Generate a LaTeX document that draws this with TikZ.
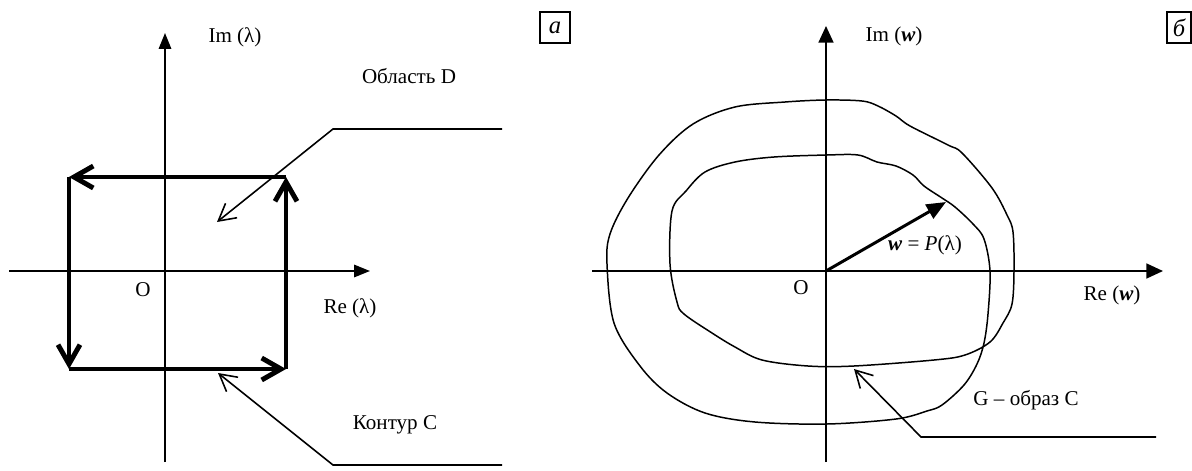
\documentclass[tikz,border=0pt]{standalone}
\usepackage{fontspec}
\setmainfont{Liberation Serif}
\usetikzlibrary{arrows.meta}
\begin{document}
\begin{tikzpicture}[x=0.02cm,y=-0.02cm,
  every node/.style={font=\fontsize{12}{14}\selectfont, inner sep=0pt},
  axis/.style={line width=1.1pt, -{Triangle[length=9pt,width=7pt]}},
  axisb/.style={line width=1.1pt, -{Triangle[length=9.5pt,width=8.5pt]}},
  contour/.style={line width=2.8pt, -{Straight Barb[length=11pt,width=12.5pt]}},
  leader/.style={line width=0.9pt, -{Straight Barb[length=9.5pt,width=10.5pt]}},
  image/.style={line width=0.85pt},
  vec/.style={line width=1.7pt, -{Triangle[length=11pt,width=9pt]}},
  tag/.style={draw, line width=0.6pt, minimum width=30\pgflinewidth, font=\fontsize{13}{15}\selectfont\itshape}
]
\useasboundingbox (0,0) rectangle (1192,470);
% ---------- panel a ----------
\coordinate (ya0) at (165,462);
\coordinate (ya1) at (165,33);
\coordinate (xa0) at (9,271);
\coordinate (xa1) at (370,271);
\draw[axis] (ya0) -- (ya1);
\draw[axis] (xa0) -- (xa1);
\node (ima) at (235,37) {Im (λ)};
\node (rea) at (350,308) {Re (λ)};
\node (oa) at (143,290) {O};
\coordinate (c1) at (69,177);
\coordinate (c2) at (286,177);
\coordinate (c3) at (286,369);
\coordinate (c4) at (69,369);
\draw[contour] (c2) -- (c1);
\draw[contour] (c1) -- (c4);
\draw[contour] (c4) -- (c3);
\draw[contour] (c3) -- (c2);
\node (obl) at (409,76) {Область D};
\coordinate (la1) at (502,129);
\coordinate (la2) at (333,129);
\coordinate (la3) at (217,222);
\draw[leader] (la1) -- (la2) -- (la3);
\node (kon) at (395,425) {Контур C};
\coordinate (lb1) at (502,465);
\coordinate (lb2) at (333,465);
\coordinate (lb3) at (218,373);
\draw[leader] (lb1) -- (lb2) -- (lb3);
\node[draw, line width=0.6pt, minimum width=30*0.02cm, minimum height=31*0.02cm, font=\fontsize{14}{16}\selectfont\itshape] (taga) at (555,27.5) {a};
% ---------- panel b ----------
\coordinate (yb0) at (826,462);
\coordinate (yb1) at (826,26);
\coordinate (xb0) at (592,271);
\coordinate (xb1) at (1163,271);
\draw[axisb] (yb0) -- (yb1);
\draw[axisb] (xb0) -- (xb1);
\node (imb) at (894,36) {Im (\textbf{\textit{w}})};
\node (reb) at (1112,295) {Re (\textbf{\textit{w}})};
\node (ob) at (801,288) {O};
\draw[image] plot[smooth cycle, tension=0.55] coordinates {
 (826,100) (862,101) (878,106) (896,116) (910,126) (948,145) (962,153)
 (992,188) (1007,215) (1013,232) (1014,271) (1012,304) (1003,323) (990,342)
 (965,355) (934,360) (854,366) (808,366) (762,360) (735,347) (712,333)
 (684,314) (677,302) (670,264) (672,211) (686,191) (705,172) (735,162)
 (774,157) (827,155) (858,155) (877,162) (896,166) (913,175) (924,186)
 (942,198) (955,207) (973,224) (984,239) (990,271) (988,314) (984,343)
 (977,364) (964,385) (942,405) (927,411) (896,419) (827,424) (755,422)
 (705,413) (667,393) (640,366) (614,323) (607,264) (610,234) (628,198)
 (659,155) (693,124) (735,107) (785,102)};
\coordinate (o) at (826,271);
\coordinate (wt) at (946,202);
\draw[vec] (o) -- (wt);
\node (wl) at (925,245) {\textbf{\textit{w}} = \textit{P}(λ)};
\node (gl) at (1026,400) {G – образ C};
\coordinate (lc1) at (1156,437);
\coordinate (lc2) at (921,437);
\coordinate (lc3) at (854,369);
\draw[leader] (lc1) -- (lc2) -- (lc3);
\node[draw, line width=0.6pt, minimum width=24*0.02cm, minimum height=31*0.02cm, font=\fontsize{14}{16}\selectfont\itshape] (tagb) at (1179,27.5) {б};
\end{tikzpicture}
\end{document}
